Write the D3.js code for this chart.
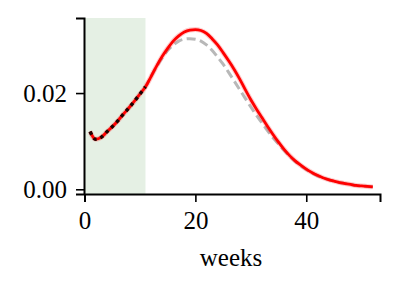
<html lang="en">
<head>
<meta charset="UTF-8">
<title>weeks</title>
<style>
  body { margin: 0; background: #fff; }
  #viz { width: 398px; height: 290px; }
  text { font-family: "Liberation Serif", "DejaVu Serif", serif; fill: #000; }
</style>
</head>
<body>
<div id="viz"></div>
<script src="https://d3js.org/d3.v7.min.js"></script>
<script>
  const weeks = d3.range(1, 53)
  const fitted = [0.0120, 0.0104, 0.0108, 0.0119, 0.0130, 0.0142, 0.0156, 0.0169, 0.0183, 0.0198,
                  0.0213, 0.0234, 0.0256, 0.0276, 0.0293, 0.0308, 0.0319, 0.0327, 0.0331, 0.0332,
                  0.0330, 0.0324, 0.0313, 0.0300, 0.0284, 0.0267, 0.0249, 0.0229, 0.0207, 0.0186,
                  0.0167, 0.0149, 0.0131, 0.0114, 0.0098, 0.0083, 0.0070, 0.0059, 0.0050, 0.0042,
                  0.0035, 0.0029, 0.0024, 0.0020, 0.0017, 0.0014, 0.0012, 0.0010, 0.0008, 0.0007,
                  0.0006, 0.0005]
  const baseline = [0.0120, 0.0104, 0.0108, 0.0119, 0.0130, 0.0142, 0.0156, 0.0169, 0.0183, 0.0198,
                    0.0213, 0.0234, 0.0255, 0.0273, 0.0289, 0.0300, 0.0308, 0.0312, 0.0313, 0.0312,
                    0.0308, 0.0300, 0.0289, 0.0275, 0.0260, 0.0243, 0.0225, 0.0207, 0.0189, 0.0171,
                    0.0154, 0.0138, 0.0122, 0.0107, 0.0094, 0.0081, 0.0069, 0.0058, 0.0049, 0.0041,
                    0.0034, 0.0028, 0.0024, 0.0020, 0.0017, 0.0014, 0.0012, 0.0010, 0.0008, 0.0007,
                    0.0006, 0.0005]
  const observedWeeks = d3.range(1, 12)
  const observed = [0.0120, 0.0104, 0.0108, 0.0119, 0.0130, 0.0142, 0.0156, 0.0169, 0.0183, 0.0198, 0.0213]
  const shadeEnd = 11
  const xTicks = [0, 20, 40]
  const yTicks = [0, 0.02]

  const svg = d3.select("#viz").append("svg")
    .attr("width", 398).attr("height", 290)

  const x = d3.scaleLinear().domain([0, 53.3]).range([84.5, 380])
  const y = d3.scaleLinear().domain([-0.00098, 0.0356]).range([194, 18])

  // observation window
  svg.append("rect")
    .attr("x", x(0)).attr("y", y.range()[1])
    .attr("width", x(shadeEnd) - x(0))
    .attr("height", y.range()[0] - y.range()[1])
    .attr("fill", "#e5f0e4")

  const line = d3.line()
    .x(function(d) { return x(d[0]) })
    .y(function(d) { return y(d[1]) })
    .curve(d3.curveMonotoneX)

  svg.append("path")
    .datum(d3.zip(weeks, baseline))
    .attr("d", line)
    .attr("fill", "none")
    .attr("stroke", "#b8b8b8")
    .attr("stroke-width", 3)
    .attr("stroke-dasharray", "9,4.5")

  svg.append("path")
    .datum(d3.zip(weeks, fitted))
    .attr("d", line)
    .attr("fill", "none")
    .attr("stroke", "#ff0000")
    .attr("stroke-opacity", 0.2)
    .attr("stroke-width", 5)

  svg.append("path")
    .datum(d3.zip(weeks, fitted))
    .attr("d", line)
    .attr("fill", "none")
    .attr("stroke", "#ff0000")
    .attr("stroke-width", 2.8)

  svg.append("path")
    .datum(d3.zip(observedWeeks, observed))
    .attr("d", line)
    .attr("fill", "none")
    .attr("stroke", "#200000")
    .attr("stroke-width", 3.4)
    .attr("stroke-dasharray", "3.4,4")

  // axes
  const xAxis = svg.append("g")
    .attr("transform", "translate(0,194)")
    .call(d3.axisBottom(x).tickValues(xTicks).tickFormat(d3.format("d")).tickSizeOuter(0).tickSize(8).tickPadding(9))
  xAxis.select(".domain").attr("stroke-width", 2)
  xAxis.selectAll(".tick line").attr("stroke-width", 1.6)
  xAxis.selectAll("text").attr("font-size", 25).attr("font-family", null)

  const yAxis = svg.append("g")
    .attr("transform", "translate(84,0)")
    .call(d3.axisLeft(y).tickValues(yTicks).tickFormat(d3.format(".2f")).tickSizeOuter(0).tickSize(8).tickPadding(9))
  yAxis.select(".domain").attr("stroke-width", 2)
  yAxis.selectAll(".tick line").attr("stroke-width", 1.6)
  yAxis.selectAll("text").attr("font-size", 25).attr("font-family", null)

  svg.append("text")
    .attr("x", 231).attr("y", 266)
    .attr("text-anchor", "middle")
    .attr("font-size", 25)
    .text("weeks")
</script>
</body>
</html>
